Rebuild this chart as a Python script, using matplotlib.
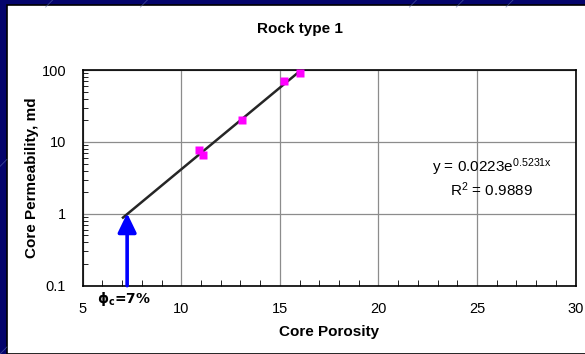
import matplotlib
matplotlib.use("Agg")
import numpy as np
import matplotlib.pyplot as plt
from matplotlib.patches import Rectangle
from matplotlib.lines import Line2D
from matplotlib.ticker import MultipleLocator, LogLocator, NullFormatter, FixedLocator

plt.rcParams['font.family'] = ['Liberation Sans', 'DejaVu Sans']
plt.rcParams['mathtext.fontset'] = 'custom'
plt.rcParams['mathtext.rm'] = 'Liberation Sans'
plt.rcParams['mathtext.default'] = 'regular'

# core plug measurements
porosity = [10.9, 11.1, 13.1, 15.2, 16.0]
permeability = [7.8, 6.5, 20.0, 70.0, 92.0]

# exponential fit k = a * exp(b * phi)
fit_a = 0.0223
fit_b = 0.5231
fit_r2 = 0.9889
phi_cutoff = 7

fig = plt.figure(figsize=(5.85, 3.54), dpi=100)
fig.patch.set_facecolor('#04046c')

# slide texture: faint diagonal dashes
for xs, ys in [(0.078, 1.0), (0.24, 1.0), (0.70, 1.0), (0.78, 1.0), (0.865, 1.0),
               (0.0, 0.02), (0.0, 0.55)]:
    fig.add_artist(Line2D([xs, xs + 0.012], [ys - 0.02, ys], color='#5a6ab0',
                          lw=0.6, alpha=0.6, transform=fig.transFigure))

panel = Rectangle((7 / 585, 0), 1, 1 - 5 / 354, transform=fig.transFigure,
                  facecolor='white', edgecolor='black', lw=1.2, zorder=0)
fig.add_artist(panel)

ax = fig.add_axes([0.1415, 0.193, 0.8425, 0.609])
ax.set_facecolor('white')

ax.set_xlim(5, 30)
ax.set_yscale('log')
ax.set_ylim(0.1, 100)

ax.xaxis.set_major_locator(MultipleLocator(5))
ax.xaxis.set_minor_locator(MultipleLocator(1))
ax.yaxis.set_major_locator(FixedLocator([0.1, 1, 10, 100]))
ax.yaxis.set_minor_locator(LogLocator(base=10, subs=np.arange(2, 10)))
ax.yaxis.set_minor_formatter(NullFormatter())
ax.set_yticklabels(['0.1', '1', '10', '100'])

ax.grid(True, which='major', color='#8c8c8c', lw=0.9)
ax.tick_params(which='both', direction='in', top=False, right=False,
               labelsize=10.5, colors='black')
ax.tick_params(axis='x', which='major', length=0, pad=12)
ax.tick_params(axis='x', which='minor', length=4)
ax.tick_params(axis='y', which='major', length=0, pad=12)
ax.tick_params(axis='y', which='minor', length=3.5)
for sp in ax.spines.values():
    sp.set_color('black')
    sp.set_linewidth(1.2)

# fitted trend line
x_fit = np.linspace(7.04, 16.05, 50)
ax.plot(x_fit, fit_a * np.exp(fit_b * x_fit), color='#262626', lw=1.8, zorder=3)

ax.plot(porosity, permeability, 's', color='#ff00ff', ms=6, mec='none', zorder=4,
        clip_on=False)

# cutoff arrow
ax.annotate('', xy=(phi_cutoff + 0.25, 1.02), xytext=(phi_cutoff + 0.25, 0.1),
            arrowprops=dict(arrowstyle='-|>,head_width=0.28,head_length=0.58',
                            mutation_scale=20, color='#0000ff', lw=2.6,
                            shrinkA=0, shrinkB=0), zorder=5)
ax.text(7.1, 0.088, '\u03d5$_{c}$=7%', ha='center', va='top', fontsize=10,
        fontweight='bold', family=['DejaVu Sans'], clip_on=False)

ax.text(0.83, 0.548, 'y = %.4fe$^{%.4fx}$' % (fit_a, fit_b), transform=ax.transAxes,
        ha='center', va='center', fontsize=11)
ax.text(0.83, 0.444, 'R$^{2}$ = %.4f' % fit_r2, transform=ax.transAxes,
        ha='center', va='center', fontsize=11)

ax.set_title('Rock type 1', fontsize=11, fontweight='bold', x=0.44, y=1.135)
ax.set_xlabel('Core Porosity', fontsize=11, fontweight='bold', labelpad=6)
ax.set_ylabel('Core Permeability, md', fontsize=11, fontweight='bold', labelpad=2)

fig.savefig('out.png', dpi=100, facecolor=fig.get_facecolor())
